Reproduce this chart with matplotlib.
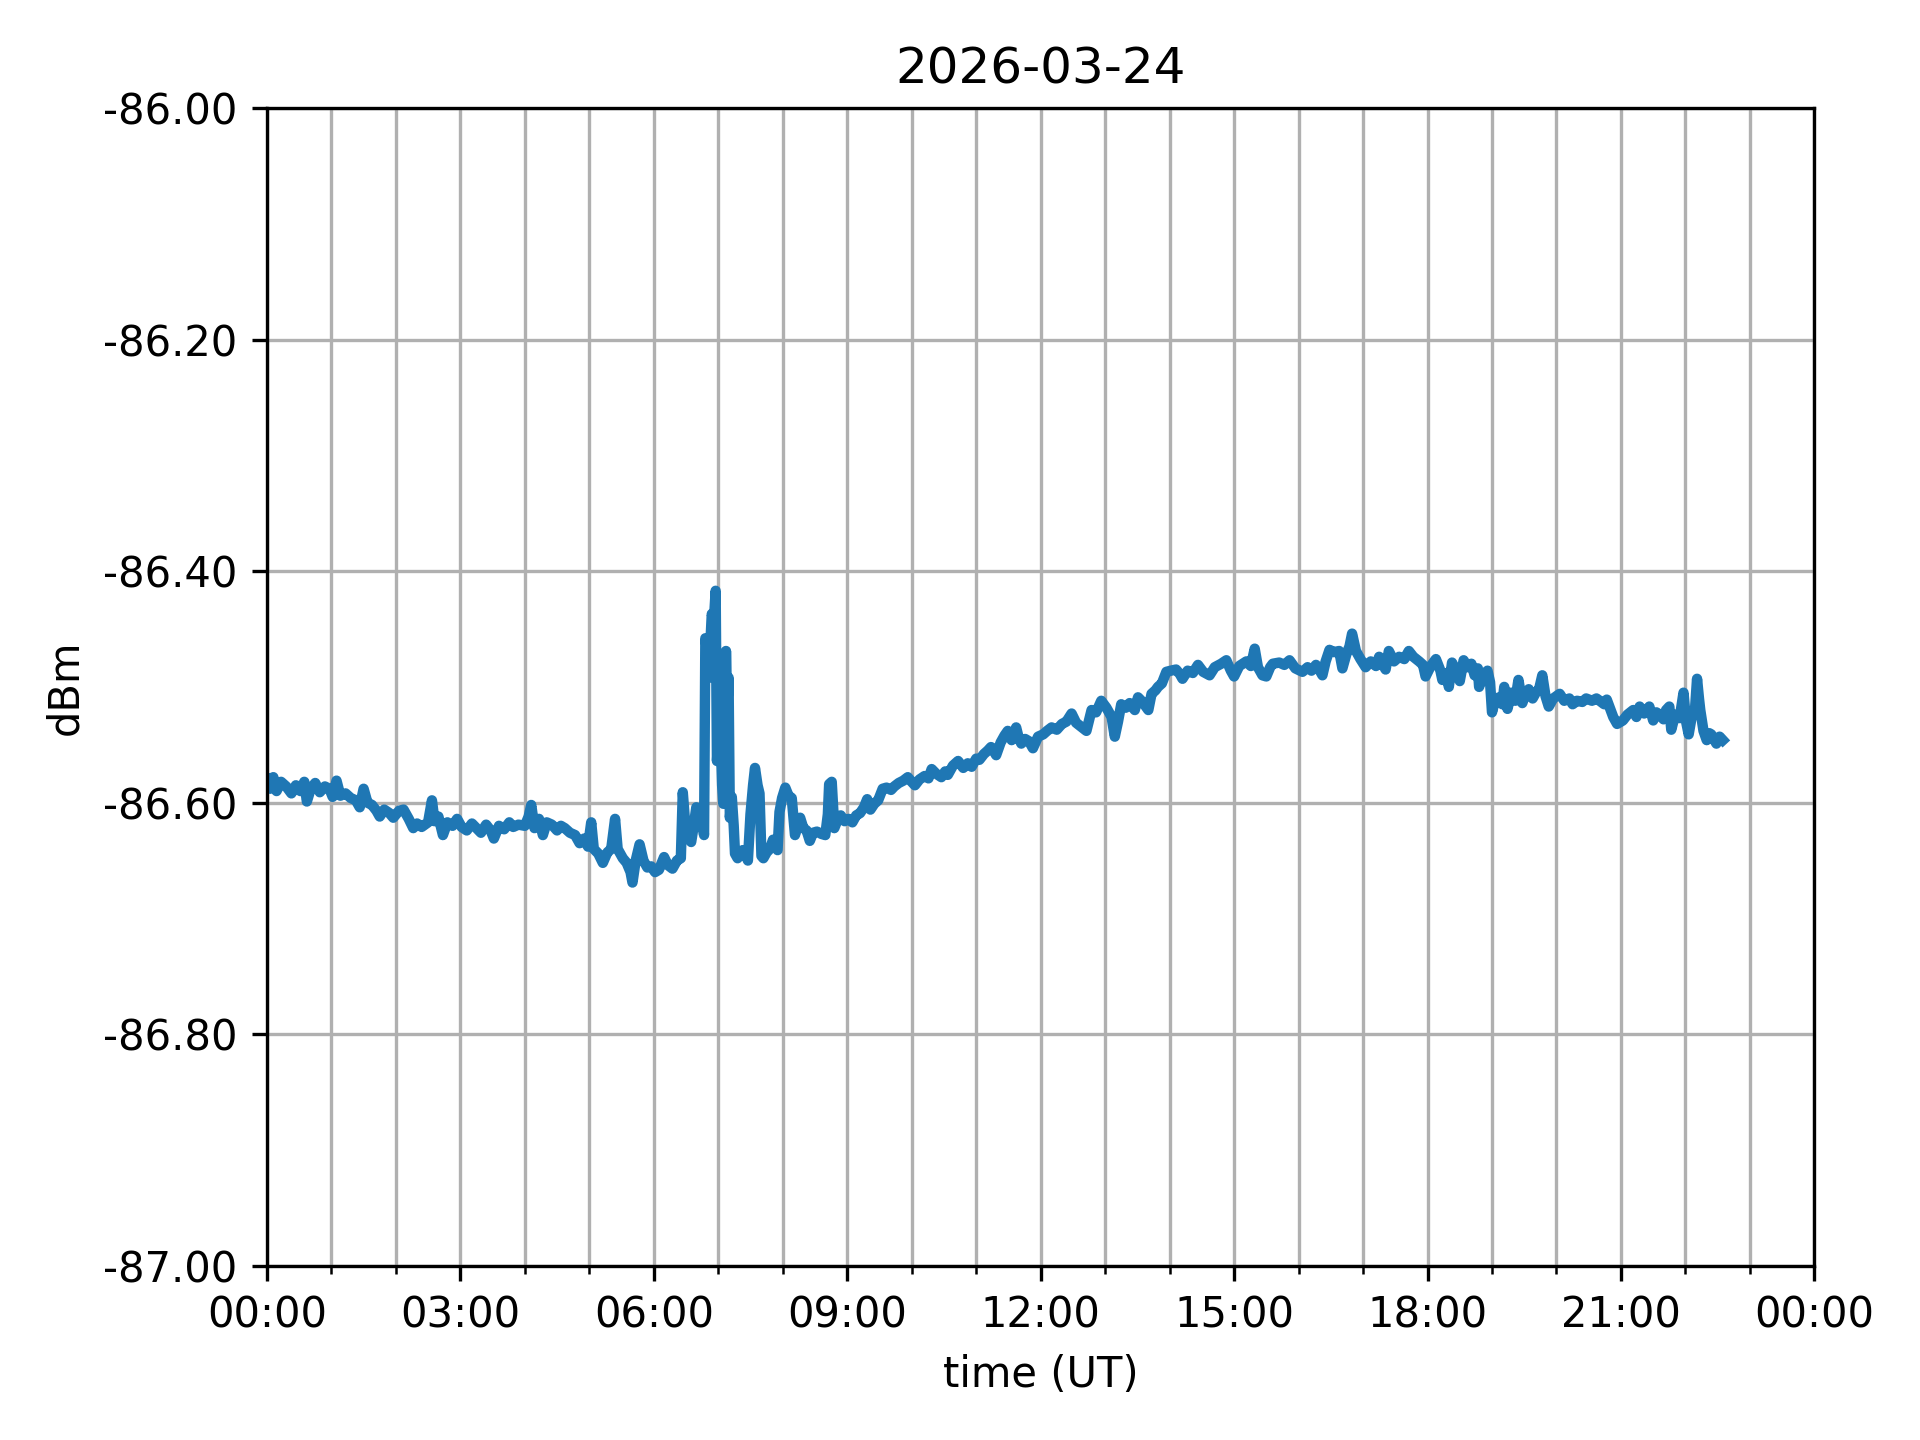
import datetime as dt

import matplotlib
matplotlib.use("Agg")
import matplotlib.pyplot as plt
import matplotlib.dates as mdates
from matplotlib.ticker import FormatStrFormatter, MultipleLocator

day = "2026-03-24"

# hours after 00:00 UT
hours = [
    0.00, 0.05, 0.10, 0.15, 0.22, 0.30, 0.38, 0.45, 0.52, 0.58, 0.62, 0.68, 0.75, 0.82, 0.90, 0.97,
    1.02, 1.08, 1.14, 1.22, 1.30, 1.38, 1.44, 1.50, 1.56, 1.63, 1.70, 1.75, 1.82, 1.90, 1.96,
    2.05, 2.12, 2.20, 2.27, 2.33, 2.40, 2.50, 2.56, 2.60, 2.66, 2.73, 2.80, 2.88, 2.95,
    3.02, 3.10, 3.18, 3.25, 3.32, 3.40, 3.47, 3.52, 3.60, 3.68, 3.76, 3.82, 3.90,
    4.00, 4.06, 4.10, 4.15, 4.22, 4.28, 4.34, 4.42, 4.50, 4.56, 4.62, 4.70, 4.78, 4.85, 4.92, 4.98,
    5.03, 5.07, 5.14, 5.21, 5.28, 5.34, 5.40, 5.44, 5.52, 5.58, 5.64, 5.67, 5.72, 5.78, 5.84, 5.90, 5.96,
    6.02, 6.08, 6.16, 6.22, 6.29, 6.36, 6.42, 6.45, 6.49, 6.53, 6.58, 6.62, 6.66, 6.70, 6.75, 6.78,
    6.80, 6.83, 6.86, 6.88, 6.90, 6.93, 6.96, 6.98,
    7.00, 7.03, 7.06, 7.08, 7.11, 7.12, 7.14, 7.16, 7.18, 7.21, 7.24, 7.26, 7.30, 7.34, 7.38, 7.42,
    7.46, 7.50, 7.54, 7.57, 7.61, 7.64, 7.67, 7.70, 7.75, 7.80, 7.85, 7.89, 7.92, 7.95, 7.99,
    8.04, 8.09, 8.14, 8.17, 8.19, 8.23, 8.27, 8.32, 8.37, 8.42, 8.47, 8.53, 8.60, 8.66, 8.70, 8.72,
    8.76, 8.80, 8.85, 8.90, 8.96,
    9.02, 9.08, 9.14, 9.20, 9.26, 9.31, 9.36, 9.42, 9.48, 9.55, 9.61, 9.68, 9.73, 9.80, 9.87, 9.94,
    10.00, 10.05, 10.12, 10.20, 10.26, 10.31, 10.38, 10.46, 10.52, 10.56, 10.64, 10.72, 10.80, 10.87, 10.93,
    11.00, 11.05, 11.12, 11.18, 11.23, 11.28, 11.31, 11.38, 11.44, 11.49, 11.55, 11.62, 11.66, 11.70,
    11.76, 11.82, 11.88, 11.96,
    12.04, 12.10, 12.17, 12.25, 12.33, 12.40, 12.48, 12.55, 12.64, 12.71, 12.79, 12.86, 12.94,
    13.02, 13.10, 13.15, 13.20, 13.25, 13.32, 13.38, 13.46, 13.51, 13.58, 13.67, 13.72, 13.78, 13.82,
    13.88, 13.95,
    14.02, 14.10, 14.16, 14.20, 14.28, 14.36, 14.44, 14.52, 14.62, 14.70, 14.80, 14.88, 14.95,
    15.00, 15.08, 15.19, 15.26, 15.32, 15.37, 15.44, 15.50, 15.56, 15.60, 15.70, 15.78, 15.86, 15.95,
    16.06, 16.14, 16.20, 16.27, 16.33, 16.37, 16.42, 16.48, 16.55, 16.63, 16.68, 16.74, 16.79, 16.83,
    16.89, 16.96,
    17.04, 17.12, 17.20, 17.25, 17.30, 17.35, 17.40, 17.48, 17.56, 17.64, 17.71, 17.78, 17.87, 17.93, 17.97,
    18.05, 18.13, 18.20, 18.23, 18.30, 18.33, 18.38, 18.45, 18.50, 18.56, 18.62, 18.68, 18.73, 18.78,
    18.80, 18.86, 18.93, 18.97,
    19.00, 19.05, 19.11, 19.16, 19.19, 19.24, 19.30, 19.36, 19.41, 19.47, 19.52, 19.57, 19.63, 19.68,
    19.73, 19.78, 19.83, 19.88, 19.95,
    20.05, 20.12, 20.20, 20.25, 20.32, 20.40, 20.46, 20.55, 20.62, 20.67, 20.74, 20.78, 20.84, 20.88, 20.94,
    21.03, 21.10, 21.19, 21.24, 21.29, 21.36, 21.44, 21.50, 21.55, 21.60, 21.66, 21.70, 21.75, 21.78,
    21.84, 21.91, 21.97,
    22.01, 22.05, 22.10, 22.15, 22.18, 22.21, 22.23, 22.28, 22.33, 22.37, 22.40, 22.45, 22.48, 22.53, 22.58,
]

dbm = [
    -86.580, -86.588, -86.578, -86.590, -86.582, -86.586, -86.592, -86.585, -86.590, -86.582, -86.599, -86.588, -86.583, -86.591, -86.586, -86.588,
    -86.595, -86.581, -86.594, -86.592, -86.596, -86.598, -86.604, -86.588, -86.600, -86.602, -86.607, -86.612, -86.606, -86.609, -86.613,
    -86.607, -86.606, -86.614, -86.622, -86.618, -86.621, -86.617, -86.598, -86.616, -86.612, -86.628, -86.617, -86.620, -86.614,
    -86.621, -86.624, -86.618, -86.622, -86.626, -86.619, -86.624, -86.631, -86.620, -86.623, -86.617, -86.621, -86.619,
    -86.620, -86.612, -86.602, -86.622, -86.614, -86.628, -86.617, -86.619, -86.624, -86.620, -86.622, -86.626, -86.628, -86.635, -86.631, -86.638,
    -86.617, -86.640, -86.644, -86.652, -86.643, -86.640, -86.614, -86.640, -86.648, -86.652, -86.660, -86.669, -86.650, -86.636, -86.650, -86.656, -86.655,
    -86.660, -86.658, -86.647, -86.654, -86.657, -86.650, -86.648, -86.591, -86.620, -86.628, -86.634, -86.620, -86.604, -86.612, -86.617, -86.628,
    -86.458, -86.470, -86.492, -86.460, -86.437, -86.445, -86.417, -86.564,
    -86.545, -86.529, -86.585, -86.601, -86.530, -86.469, -86.520, -86.492, -86.613, -86.595, -86.620, -86.644, -86.648, -86.645, -86.641, -86.644,
    -86.650, -86.610, -86.585, -86.570, -86.585, -86.592, -86.646, -86.648, -86.643, -86.640, -86.632, -86.638, -86.641, -86.608, -86.596,
    -86.587, -86.594, -86.596, -86.615, -86.628, -86.620, -86.613, -86.622, -86.624, -86.633, -86.626, -86.625, -86.627, -86.628, -86.610, -86.584,
    -86.582, -86.622, -86.615, -86.611, -86.616,
    -86.614, -86.617, -86.611, -86.609, -86.604, -86.597, -86.606, -86.601, -86.598, -86.588, -86.587, -86.589, -86.586, -86.583, -86.581, -86.578,
    -86.582, -86.585, -86.580, -86.577, -86.579, -86.571, -86.575, -86.578, -86.573, -86.576, -86.568, -86.564, -86.570, -86.566, -86.569,
    -86.562, -86.563, -86.558, -86.555, -86.552, -86.556, -86.559, -86.548, -86.542, -86.538, -86.546, -86.535, -86.544, -86.549,
    -86.545, -86.547, -86.553, -86.543,
    -86.541, -86.538, -86.535, -86.537, -86.532, -86.530, -86.523, -86.531, -86.535, -86.538, -86.520, -86.522, -86.512,
    -86.518, -86.526, -86.543, -86.530, -86.515, -86.518, -86.514, -86.520, -86.509, -86.513, -86.520, -86.506, -86.503, -86.500,
    -86.497, -86.487,
    -86.486, -86.485, -86.489, -86.493, -86.486, -86.488, -86.481, -86.487, -86.490, -86.483, -86.480, -86.477, -86.486,
    -86.491, -86.482, -86.478, -86.482, -86.467, -86.483, -86.490, -86.491, -86.483, -86.480, -86.479, -86.481, -86.477, -86.484,
    -86.487, -86.483, -86.486, -86.481, -86.486, -86.490, -86.478, -86.468, -86.470, -86.469, -86.484, -86.472, -86.465, -86.454,
    -86.469, -86.476,
    -86.483, -86.478, -86.482, -86.474, -86.480, -86.485, -86.469, -86.478, -86.474, -86.476, -86.469, -86.474, -86.478, -86.481, -86.491,
    -86.482, -86.476, -86.486, -86.494, -86.488, -86.500, -86.479, -86.487, -86.495, -86.477, -86.483, -86.480, -86.490, -86.484,
    -86.500, -86.490, -86.486, -86.496,
    -86.522, -86.511, -86.509, -86.515, -86.500, -86.519, -86.505, -86.512, -86.494, -86.514, -86.506, -86.502, -86.510, -86.505,
    -86.502, -86.490, -86.508, -86.517, -86.510,
    -86.506, -86.512, -86.510, -86.515, -86.512, -86.513, -86.510, -86.512, -86.510, -86.512, -86.515, -86.511, -86.520, -86.526, -86.532,
    -86.529, -86.524, -86.520, -86.526, -86.517, -86.523, -86.517, -86.529, -86.522, -86.524, -86.528, -86.520, -86.517, -86.537,
    -86.524, -86.527, -86.505,
    -86.530, -86.541, -86.525, -86.518, -86.493, -86.510, -86.520, -86.538, -86.546, -86.540, -86.541, -86.546, -86.549, -86.543, -86.546,
]


def main():
    start = dt.datetime.strptime(day, "%Y-%m-%d")
    times = [start + dt.timedelta(hours=h) for h in hours]

    fig, ax = plt.subplots(figsize=(6.4, 4.8), dpi=300)
    fig.subplots_adjust(left=0.139, right=0.945, bottom=0.121, top=0.925)

    ax.plot(times, dbm, color="#1f77b4", linewidth=2.5)

    ax.set_xlim(start, start + dt.timedelta(days=1))
    ax.set_ylim(-87.0, -86.0)

    ax.xaxis.set_major_locator(mdates.HourLocator(byhour=range(0, 24, 3)))
    ax.xaxis.set_minor_locator(mdates.HourLocator())
    ax.xaxis.set_major_formatter(mdates.DateFormatter("%H:%M"))
    ax.yaxis.set_major_locator(MultipleLocator(0.2))
    ax.yaxis.set_major_formatter(FormatStrFormatter("%.2f"))

    ax.grid(True, which="major", axis="both")
    ax.grid(True, which="minor", axis="x")

    ax.set_title(day)
    ax.set_xlabel("time (UT)")
    ax.set_ylabel("dBm")

    fig.savefig("out.png", dpi=300)


if __name__ == "__main__":
    main()
